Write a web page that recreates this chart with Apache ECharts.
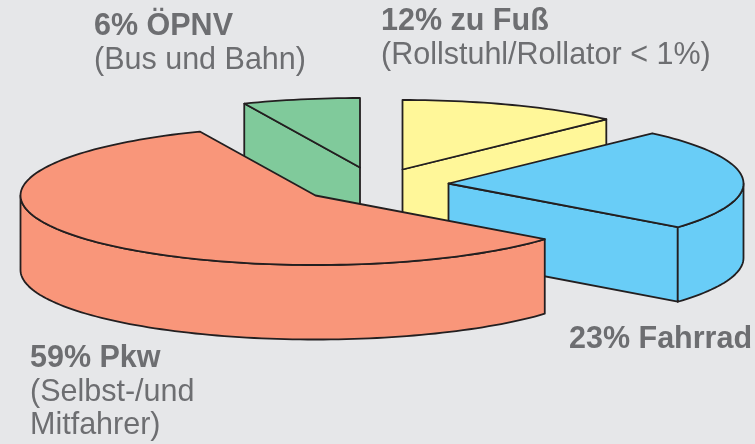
<!DOCTYPE html>
<html>
<head>
<meta charset="utf-8">
<style>html,body{margin:0;padding:0;background:#E6E7E9}#c{width:755px;height:444px}</style>
<script src="https://cdn.jsdelivr.net/npm/echarts@6/dist/echarts.min.js"></script>
</head>
<body>
<div id="c"></div>
<script>
// Data, clockwise starting from the slice left of twelve o'clock
const categories = ['ÖPNV', 'zu Fuß', 'Fahrrad', 'Pkw'];
const shares = [6, 12, 23, 59];
const titleTexts = ['6% ÖPNV', '12% zu Fuß', '23% Fahrrad', '59% Pkw'];
const noteTexts = [['(Bus und Bahn)'], ['(Rollstuhl/Rollator < 1%)'], [], ['(Selbst-/und', 'Mitfahrer)']];

// Style and layout
const sliceColors = ['#80CA9B', '#FFF799', '#69CDF7', '#F9967A'];
const apexes = [[360, 167.5], [402.5, 169.5], [448.5, 183.5], [315.5, 195.5]];
const edgeNudgeDeg = [-1.5, 0, 0.5, 3]; // the drawing's cut edges sit slightly off the exact proportions
const labelAnchors = [[94, 36], [381, 31], [569, 349], [30, 368]];
const RX = 295, RY = 69.5, DEPTH = 74.5;
const STROKE = '#231F20', TEXT = '#6D6E71', FONT = '"Liberation Sans", Arial, sans-serif';
const FS = 30.5, LINE = 33.5, BASELINE_DROP = 6.5;

const total = shares.reduce((a, b) => a + b, 0);
const START_DEG = -shares[0] / total * 360;
const rad = d => d * Math.PI / 180;

function rimPoint(c, deg, drop) {
  return [c[0] + RX * Math.sin(rad(deg)), c[1] - RY * Math.cos(rad(deg)) + drop];
}
function arcPoints(c, a, b, drop) {
  const n = Math.max(2, Math.ceil(Math.abs(b - a) / 1.5));
  const pts = [];
  for (let i = 0; i <= n; i++) pts.push(rimPoint(c, a + (b - a) * i / n, drop));
  return pts;
}
function face(points, color) {
  return {
    type: 'polygon', shape: { points: points },
    style: { fill: color, stroke: STROKE, lineWidth: 1.8, lineJoin: 'round' }
  };
}

function renderItem(params, api) {
  const i = params.dataIndex;
  let before = 0;
  for (let k = 0; k < i; k++) before += shares[k];
  const a = START_DEG + before / total * 360 + edgeNudgeDeg[i];
  const b = START_DEG + (before + api.value(0)) / total * 360 + edgeNudgeDeg[(i + 1) % shares.length];
  const c = apexes[i], color = sliceColors[i];
  const children = [];
  // radial cut faces turned toward the viewer
  if (Math.sin(rad(a)) < -0.01) {
    const p = rimPoint(c, a, 0);
    children.push(face([c, p, [p[0], p[1] + DEPTH], [c[0], c[1] + DEPTH]], color));
  }
  if (Math.sin(rad(b)) > 0.01) {
    const p = rimPoint(c, b, 0);
    children.push(face([c, p, [p[0], p[1] + DEPTH], [c[0], c[1] + DEPTH]], color));
  }
  // outer wall (front half of the rim only)
  const wa = Math.max(a, 90), wb = Math.min(b, 270);
  if (wb > wa) {
    children.push(face(arcPoints(c, wa, wb, 0).concat(arcPoints(c, wb, wa, DEPTH)), color));
  }
  // top
  children.push(face([c].concat(arcPoints(c, a, b, 0)), color));
  return { type: 'group', children: children };
}

const labelGraphics = [];
titleTexts.forEach((t, i) => {
  const [x, y] = labelAnchors[i];
  labelGraphics.push({
    type: 'text', x: x, y: y + BASELINE_DROP, silent: true,
    style: { text: t, fill: TEXT, font: 'bold ' + FS + 'px ' + FONT, textAlign: 'left', textVerticalAlign: 'bottom' }
  });
  noteTexts[i].forEach((n, j) => {
    labelGraphics.push({
      type: 'text', x: x, y: y + BASELINE_DROP + LINE * (j + 1), silent: true,
      style: { text: n, fill: TEXT, font: FS + 'px ' + FONT, textAlign: 'left', textVerticalAlign: 'bottom' }
    });
  });
});

const chart = echarts.init(document.getElementById('c'), null, { renderer: 'canvas' });
chart.setOption({
  backgroundColor: '#E6E7E9',
  animation: false,
  graphic: labelGraphics,
  series: [{
    type: 'custom',
    coordinateSystem: 'none',
    silent: true,
    renderItem: renderItem,
    data: shares.map((v, i) => ({ name: categories[i], value: [v] }))
  }]
});
</script>
</body>
</html>
